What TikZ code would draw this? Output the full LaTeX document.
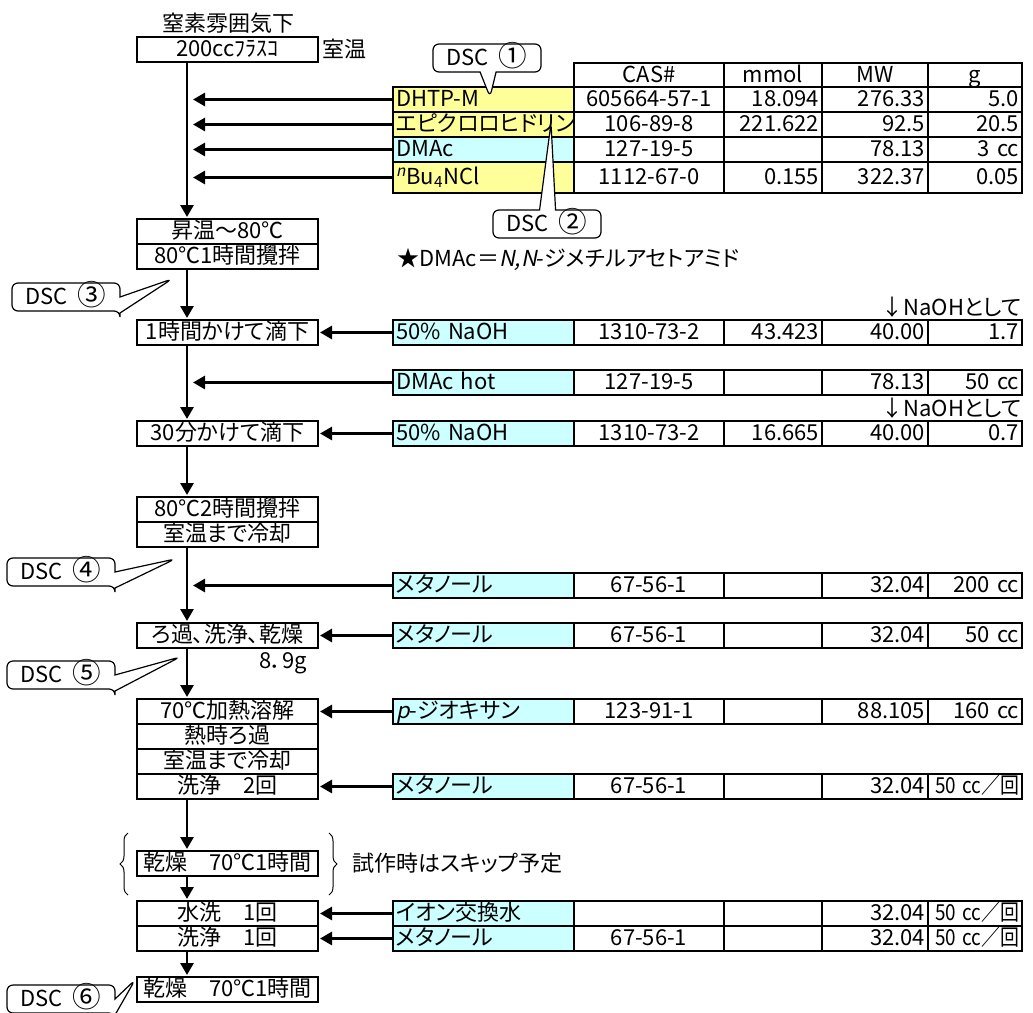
\documentclass[tikz,border=0pt]{standalone}
\usepackage{fontspec}
\setmainfont{Noto Sans CJK JP}[RawFeature=+palt, AutoFakeSlant=0.2]
\usepackage{tikz}
\usetikzlibrary{arrows.meta, positioning, shapes.callouts, decorations.pathreplacing}

\definecolor{reagentyellow}{HTML}{FFFF99}
\definecolor{reagentcyan}{HTML}{CCFFFF}

\tikzset{
  cell/.style={draw, line width=1pt, anchor=north west, outer sep=0pt, inner xsep=1.5pt, inner ysep=0pt,
    text height=8.5pt, text depth=1.5pt, minimum height=12.5pt},
  namecell/.style={cell, text width=87.5pt, align=left},
  cascell/.style={cell, text width=72pt, align=center},
  mmolcell/.style={cell, text width=46pt},
  mwcell/.style={cell, text width=50pt},
  gcell/.style={cell, text width=44pt},
  stepbox/.style={draw, line width=1pt, anchor=north west, outer sep=0pt, inner sep=0pt,
    minimum width=90.5pt, minimum height=12.5pt, text height=8.5pt, text depth=1.5pt},
  flow/.style={line width=1.4pt, -{Triangle[length=6pt, width=6.5pt]}, shorten >=1pt},
  dsc/.style={rectangle callout, draw, line width=0.6pt, fill=white, rounded corners=3pt,
    minimum width=54pt, minimum height=14pt, inner sep=1pt, callout pointer width=8pt,
    text height=8.5pt, text depth=1.5pt},
  note/.style={inner sep=1pt},
}

% one reagent line of the table: name, top, height, fill, reagent, CAS, mmol, MW, amount
\newcommand{\reagentrow}[9]{%
  \node[namecell, fill=#4, minimum height=#3] (#1) at (393,#2) {#5};
  \node[cascell, minimum height=#3] (#1-cas) at (574,#2) {#6};
  \node[mmolcell, minimum height=#3] (#1-mmol) at (724,#2) {\makebox[\linewidth][r]{#7}};
  \node[mwcell, minimum height=#3] (#1-mw) at (822,#2) {\makebox[\linewidth][r]{#8}};
  \node[gcell, minimum height=#3] (#1-g) at (928,#2) {\makebox[\linewidth][r]{#9}};
}
% amount per wash, squeezed into the narrow column
\newcommand{\perwash}{\scalebox{0.86}[1]{50 cc／回}}
% DSC label with a larger circled number
\newcommand{\dsclabel}[1]{DSC\hspace{5pt}\raisebox{-0.5pt}{\scalebox{1.3}{#1}}}

\begin{document}
\begin{tikzpicture}[x=0.5pt, y=-0.5pt, font=\fontsize{11}{13}\selectfont]
  \useasboundingbox (0,0) rectangle (1033,1012);
  % spine of the flow
  \coordinate (spine) at (187,0);
  % flask under nitrogen
  \node (nitrogen) at (228,23) {窒素雰囲気下};
  \node[stepbox] (flask) at (137,37) {200ccﾌﾗｽｺ};
  \node[note, anchor=west] (roomtemp) at (320,49) {室温};
  % table head
  \node[cascell, minimum height=12pt] (hcas) at (574,63) {CAS\#};
  \node[mmolcell, align=center, minimum height=12pt] (hmmol) at (724,63) {mmol};
  \node[mwcell, align=center, minimum height=12pt] (hmw) at (822,63) {MW};
  \node[gcell, align=center, minimum height=12pt] (hg) at (928,63) {g};
  % first charge
  \reagentrow{dhtp}{87}{12.5pt}{reagentyellow}{DHTP-M}{605664-57-1}{18.094}{276.33}{5.0}
  \reagentrow{epi}{112}{12.5pt}{reagentyellow}{エピクロロヒドリン}{106-89-8}{221.622}{92.5}{20.5}
  \reagentrow{dmac}{137}{12.5pt}{reagentcyan}{DMAc}{127-19-5}{}{78.13}{3 cc}
  \reagentrow{bu4n}{162}{15.5pt}{reagentyellow}{\textsuperscript{\textit{n}}Bu\textsubscript{4}NCl}{1112-67-0}{0.155}{322.37}{0.05}
  \draw[flow, shorten >=3pt] (dhtp.west) -- (dhtp.west -| spine);
  \draw[flow, shorten >=3pt] (epi.west) -- (epi.west -| spine);
  \draw[flow, shorten >=3pt] (dmac.west) -- (dmac.west -| spine);
  \draw[flow, shorten >=3pt] (bu4n.west) -- (bu4n.west -| spine);
  % heating
  \node[stepbox] (heat) at (137,219) {昇温～80℃};
  \node[stepbox, below=0pt of heat] (stir) {80℃1時間攪拌};
  \draw[flow] (flask.south -| spine) -- (heat.north -| spine);
  \node[note, anchor=west] (dmacnote) at (395,260) {★DMAc＝\textit{N,N}-ジメチルアセトアミド};
  % base added dropwise
  \node[stepbox] (drop) at (137,320) {1時間かけて滴下};
  \node[stepbox] (dropb) at (137,421) {30分かけて滴下};
  \node[note, anchor=east] (asnaoh) at (1024,307) {↓NaOHとして};
  \node[note, anchor=east] (asnaohb) at (1024,408) {↓NaOHとして};
  \reagentrow{naoh}{320}{12.5pt}{reagentcyan}{50\% NaOH}{1310-73-2}{43.423}{40.00}{1.7}
  \reagentrow{dmachot}{370}{12.5pt}{reagentcyan}{DMAc hot}{127-19-5}{}{78.13}{50 cc}
  \reagentrow{naohb}{421}{12.5pt}{reagentcyan}{50\% NaOH}{1310-73-2}{16.665}{40.00}{0.7}
  \draw[flow] (stir.south -| spine) -- (drop.north -| spine);
  \draw[flow] (naoh.west) -- (naoh.west -| drop.east);
  \draw[flow] (drop.south -| spine) -- (dropb.north -| spine);
  \draw[flow, shorten >=3pt] (dmachot.west) -- (dmachot.west -| spine);
  \draw[flow] (naohb.west) -- (naohb.west -| dropb.east);
  % aging and cooling
  \node[stepbox] (age) at (137,497) {80℃2時間攪拌};
  \node[stepbox, below=0pt of age] (cool) {室温まで冷却};
  \draw[flow] (dropb.south -| spine) -- (age.north -| spine);
  % work-up
  \node[stepbox] (filter) at (137,623) {ろ過、洗浄、乾燥};
  \node[note] (yield) at (283,663) {8．9g};
  \reagentrow{meoh}{573}{12.5pt}{reagentcyan}{メタノール}{67-56-1}{}{32.04}{200 cc}
  \reagentrow{meohb}{623}{12.5pt}{reagentcyan}{メタノール}{67-56-1}{}{32.04}{50 cc}
  \draw[flow] (cool.south -| spine) -- (filter.north -| spine);
  \draw[flow, shorten >=3pt] (meoh.west) -- (meoh.west -| spine);
  \draw[flow] (meohb.west) -- (meohb.west -| filter.east);
  % recrystallisation
  \node[stepbox] (dissolve) at (137,699) {70℃加熱溶解};
  \node[stepbox, below=0pt of dissolve] (hotfilter) {熱時ろ過};
  \node[stepbox, below=0pt of hotfilter] (coolb) {室温まで冷却};
  \node[stepbox, below=0pt of coolb] (washtwice) {洗浄　2回};
  \reagentrow{dioxane}{699}{12.5pt}{reagentcyan}{\textit{p}-ジオキサン}{123-91-1}{}{88.105}{160 cc}
  \reagentrow{meohc}{774}{12.5pt}{reagentcyan}{メタノール}{67-56-1}{}{32.04}{\perwash}
  \draw[flow] (filter.south -| spine) -- (dissolve.north -| spine);
  \draw[flow] (dioxane.west) -- (dioxane.west -| dissolve.east);
  \draw[flow] (meohc.west) -- (meohc.west -| washtwice.east);
  % optional drying
  \node[stepbox] (dryskip) at (137,851) {乾燥　70℃1時間};
  \draw[decorate, decoration={brace, amplitude=4pt}, line width=0.5pt] (128,895) -- (128,833);
  \draw[decorate, decoration={brace, amplitude=4pt}, line width=0.5pt] (329,833) -- (329,895);
  \node[note, anchor=west] (skipnote) at (350,863) {試作時はスキップ予定};
  \draw[flow] (washtwice.south -| spine) -- (dryskip.north -| spine);
  % final washes and drying
  \node[stepbox] (rinse) at (137,901) {水洗　1回};
  \node[stepbox, below=0pt of rinse] (washonce) {洗浄　1回};
  \node[stepbox] (dry) at (137,977) {乾燥　70℃1時間};
  \reagentrow{water}{901}{12.5pt}{reagentcyan}{イオン交換水}{}{}{32.04}{\perwash}
  \reagentrow{meohd}{926}{12.5pt}{reagentcyan}{メタノール}{67-56-1}{}{32.04}{\perwash}
  \draw[flow] (dryskip.south -| spine) -- (rinse.north -| spine);
  \draw[flow] (water.west) -- (water.west -| rinse.east);
  \draw[flow] (meohd.west) -- (meohd.west -| washonce.east);
  \draw[flow] (washonce.south -| spine) -- (dry.north -| spine);
  % DSC sampling points
  \coordinate (tip1) at (490,97);
  \coordinate (tip2) at (551,123);
  \coordinate (tip3) at (172,279);
  \coordinate (tip4) at (175,559);
  \coordinate (tip5) at (180,657);
  \coordinate (tip6) at (135,980);
  \node[dsc, callout absolute pointer={(tip1)}] (dsc1) at (487,58) {\dsclabel{①}};
  \node[dsc, callout absolute pointer={(tip2)}] (dsc2) at (547,224) {\dsclabel{②}};
  \node[dsc, callout absolute pointer={(tip3)}] (dsc3) at (66,297) {\dsclabel{③}};
  \node[dsc, callout absolute pointer={(tip4)}] (dsc4) at (61,572) {\dsclabel{④}};
  \node[dsc, callout absolute pointer={(tip5)}] (dsc5) at (61,675) {\dsclabel{⑤}};
  \node[dsc, callout absolute pointer={(tip6)}] (dsc6) at (61,999) {\dsclabel{⑥}};
\end{tikzpicture}
\end{document}
